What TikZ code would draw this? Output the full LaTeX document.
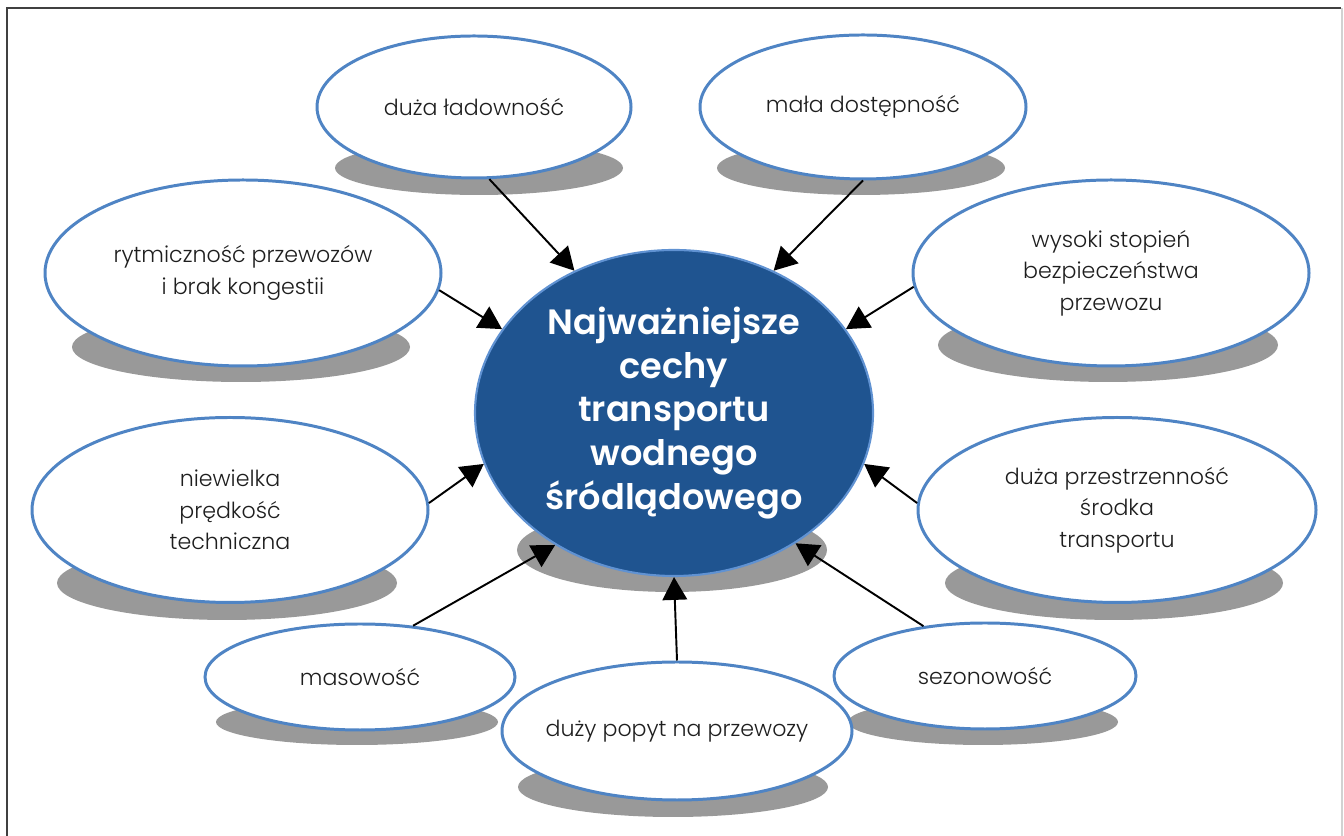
\documentclass[tikz,border=0pt]{standalone}
\usepackage{fontspec}
\setmainfont{Poppins}[UprightFont=* Light, BoldFont=* SemiBold]
\usepackage{tikz}
\usetikzlibrary{shapes.geometric,arrows.meta}

\definecolor{rimblue}{RGB}{79,132,196}
\definecolor{coreblue}{RGB}{31,84,144}
\definecolor{corerim}{RGB}{96,146,210}
\definecolor{shadowgray}{RGB}{153,153,153}
\definecolor{textgray}{RGB}{30,30,30}

\begin{document}
\begin{tikzpicture}[bubblenode/.style={ellipse, draw=rimblue, fill=white, line width=1.7pt, inner xsep=-6pt, inner ysep=0pt, align=center, text=textgray, font=\fontsize{12.6}{18}\selectfont},
        centernode/.style={ellipse, draw=corerim, fill=coreblue, line width=1.2pt, inner sep=0pt, align=center, text=white, font=\fontsize{20}{25}\selectfont\bfseries},
        shadowfill/.style={fill=shadowgray},
        arrowline/.style={line width=1.1pt, -{Triangle[length=13pt, width=14pt]}}]

        \useasboundingbox (0,0) rectangle (26.88,16.72);
        \draw[black!75, line width=0.8pt] (0.14,0) -- (0.14,16.56) -- (26.82,16.56);
        \draw[gray!35, line width=0.8pt] (26.84,16.56) -- (26.84,0);

        % shadows
        \fill[shadowfill] (13.44,5.72) ellipse (3.10 and 0.84);
        \fill[shadowfill] (9.58,13.36) ellipse (2.88 and 0.54);
        \fill[shadowfill] (17.22,13.36) ellipse (2.88 and 0.54);
        \fill[shadowfill] (4.82,9.78) ellipse (3.38 and 0.70);
        \fill[shadowfill] (22.16,9.82) ellipse (3.40 and 0.74);
        \fill[shadowfill] (4.54,5.06) ellipse (3.40 and 0.74);
        \fill[shadowfill] (22.28,5.06) ellipse (3.38 and 0.74);
        \fill[shadowfill] (7.14,2.28) ellipse (2.82 and 0.46);
        \fill[shadowfill] (19.66,2.28) ellipse (2.70 and 0.46);
        \fill[shadowfill] (13.46,0.98) ellipse (3.10 and 0.60);

        \node[centernode, minimum width=7.96cm, minimum height=6.52cm] (0) at (13.48,8.46) {Najważniejsze\\cechy\\transportu\\wodnego\\śródlądowego};

        \node[bubblenode, minimum width=6.28cm, minimum height=2.84cm] (1) at (9.48,14.58) {duża ładowność};
        \node[bubblenode, minimum width=6.52cm, minimum height=2.88cm] (2) at (17.26,14.58) {mała dostępność};
        \node[bubblenode, minimum width=7.92cm, minimum height=3.72cm] (3) at (4.86,11.26) {rytmiczność przewozów\\i brak kongestii};
        \node[bubblenode, minimum width=7.92cm, minimum height=3.72cm] (4) at (22.22,11.26) {wysoki stopień\\bezpieczeństwa\\przewozu};
        \node[bubblenode, minimum width=7.92cm, minimum height=3.70cm] (5) at (4.60,6.52) {niewielka\\prędkość\\techniczna};
        \node[bubblenode, minimum width=7.96cm, minimum height=3.70cm] (6) at (22.34,6.52) {duża przestrzenność\\środka\\transportu};
        \node[bubblenode, minimum width=6.20cm, minimum height=2.12cm] (7) at (7.20,3.18) {masowość};
        \node[bubblenode, minimum width=6.04cm, minimum height=2.12cm] (8) at (19.70,3.20) {sezonowość};
        \node[bubblenode, minimum width=7.00cm, minimum height=2.76cm] (9) at (13.54,2.10) {duży popyt na przewozy};

        \draw[arrowline] (1.-78) -- (0.125);
        \draw[arrowline] (2.-90) -- (0.55);
        \draw[arrowline] (3.-5) -- (0.154);
        \draw[arrowline] (4.184) -- (0.26);
        \draw[arrowline] (5.2) -- (0.-165);
        \draw[arrowline] (6.178) -- (0.-15);
        \draw[arrowline] (7.44) -- (0.-132);
        \draw[arrowline] (8.141) -- (0.-47);
        \draw[arrowline] (9.90) -- (0.-90);

\end{tikzpicture}
\end{document}
